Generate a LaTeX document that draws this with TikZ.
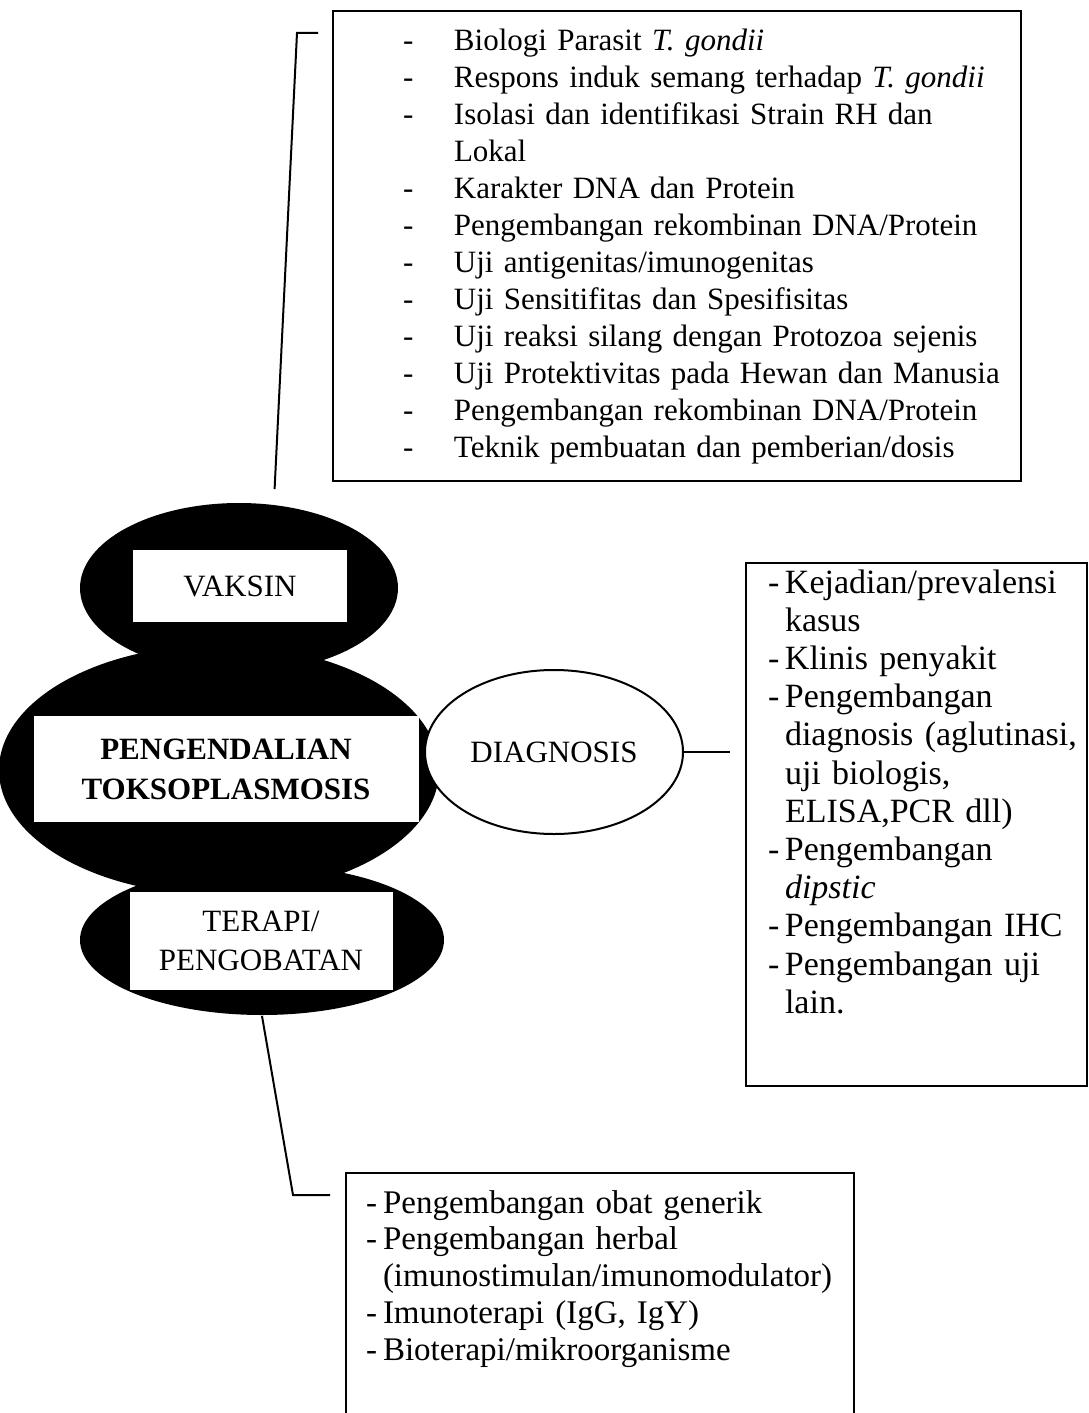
\documentclass[tikz,border=0pt]{standalone}
\usepackage{fontspec}
\setmainfont{Liberation Serif}
\usetikzlibrary{shapes.geometric}

\begin{document}
\begin{tikzpicture}[x=0.5pt, y=-0.5pt, line width=1pt]
\tikzset{blob/.style={ellipse, fill=black, inner sep=0pt},tag/.style={fill=white, inner sep=0pt, align=center, font=\fontsize{15.5}{19.5}\selectfont},listbox/.style={draw, anchor=north west, inner sep=0pt, align=left},link/.style={line width=1pt}}
\useasboundingbox (0,0) rectangle (1088,1413);
% black ellipses and their white labels
\node[blob, minimum width=159pt, minimum height=85pt] (vaksinblob) at (239,588) {};
\node[blob, minimum width=220pt, minimum height=125pt] (mainblob) at (219,770) {};
\node[blob, minimum width=182pt, minimum height=75pt] (terapiblob) at (262,940) {};
\node[tag, minimum width=107pt, minimum height=36pt] (vaksin) at (240,586) {VAKSIN};
\node[tag, minimum width=192.5pt, minimum height=53pt, font=\fontsize{15.5}{20}\selectfont\bfseries] (pengendalian) at (226,769) {PENGENDALIAN\\TOKSOPLASMOSIS};
\node[tag, minimum width=131.5pt, minimum height=49pt] (terapi) at (261,941) {TERAPI/\\PENGOBATAN};
\node[tag, ellipse, draw, minimum width=129pt, minimum height=82pt] (diag) at (554,752) {DIAGNOSIS};
% lists
\node[listbox, text width=344pt, text height=20pt, text depth=215pt, font=\fontsize{15.5}{18.5}\selectfont] (vaksinlist) at (332,10) {\begin{tabular}[t]{@{\hspace{35pt}}p{25.5pt}@{}l@{}}
- & Biologi Parasit \textit{T. gondii}\\
- & Respons induk semang terhadap \textit{T. gondii}\\
- & Isolasi dan identifikasi Strain RH dan\\
  & Lokal\\
- & Karakter DNA dan Protein\\
- & Pengembangan rekombinan DNA/Protein\\
- & Uji antigenitas/imunogenitas\\
- & Uji Sensitifitas dan Spesifisitas\\
- & Uji reaksi silang dengan Protozoa sejenis\\
- & Uji Protektivitas pada Hewan dan Manusia\\
- & Pengembangan rekombinan DNA/Protein\\
- & Teknik pembuatan dan pemberian/dosis
\end{tabular}};
\node[listbox, text width=170.5pt, text height=15pt, text depth=246.5pt, font=\fontsize{17}{19.1}\selectfont] (diaglist) at (745,562) {\begin{tabular}[t]{@{\hspace{11pt}}p{8.5pt}@{}l@{}}
- & Kejadian/prevalensi\\
  & kasus\\
- & Klinis penyakit\\
- & Pengembangan\\
  & diagnosis (aglutinasi,\\
  & uji biologis,\\
  & ELISA,PCR dll)\\
- & Pengembangan\\
  & \textit{dipstic}\\
- & Pengembangan IHC\\
- & Pengembangan uji\\
  & lain.
\end{tabular}};
\node[listbox, text width=254pt, text height=20pt, text depth=114pt, font=\fontsize{16.5}{18.4}\selectfont] (terapilist) at (345,1172) {\begin{tabular}[t]{@{\hspace{10pt}}p{8.5pt}@{}l@{}}
- & Pengembangan obat generik\\
- & Pengembangan herbal\\
  & (imunostimulan/imunomodulator)\\
- & Imunoterapi (IgG, IgY)\\
- & Bioterapi/mikroorganisme
\end{tabular}};
% connectors
\draw[link] ([xshift=-7pt,yshift=-11.5pt]vaksinlist.north west) -- ++(-10.5pt,0) -- ([yshift=7.5pt]vaksinblob.67);
\draw[link] (diag.east) -- ([xshift=-7.5pt]diaglist.west |- diag.east);
\draw[link] (terapiblob.south) -- ([xshift=-26pt,yshift=-11.5pt]terapilist.north west) -- ++(18.5pt,0);
\end{tikzpicture}
\end{document}
